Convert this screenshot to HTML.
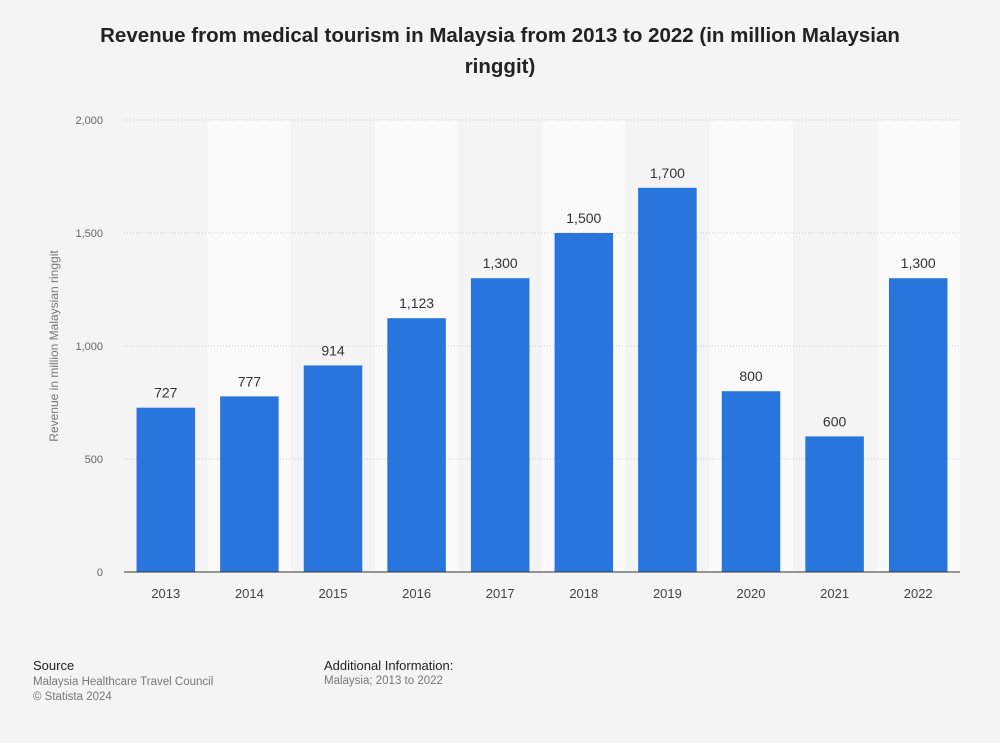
<!DOCTYPE html>
<html><head><meta charset="utf-8"><style>
body{margin:0;background:#f4f4f4;font-family:"Liberation Sans",sans-serif;}
#wrap{position:relative;width:1000px;height:743px;}
.t{position:absolute;}
</style></head><body><div id="wrap">
<div class="t" style="left:85px;top:20px;width:830px;text-align:center;font-size:20.5px;font-weight:bold;color:#222;line-height:31px">Revenue from medical tourism in Malaysia from 2013 to 2022 (in million Malaysian ringgit)</div>
<svg id="c" width="1000" height="743" style="position:absolute;left:0;top:0"></svg>
<div class="t" style="left:33px;top:658px;font-size:13px;color:#222">Source</div>
<div class="t" style="left:33px;top:675px;font-size:11.5px;color:#777;line-height:15px">Malaysia Healthcare Travel Council<br>© Statista 2024</div>
<div class="t" style="left:324px;top:658px;font-size:13px;color:#222">Additional Information:</div>
<div class="t" style="left:324px;top:675px;font-size:11.5px;color:#777">Malaysia; 2013 to 2022</div>
</div>
<script>
const categories=["2013","2014","2015","2016","2017","2018","2019","2020","2021","2022"];
const values=[727,777,914,1123,1300,1500,1700,800,600,1300];
const labels=["727","777","914","1,123","1,300","1,500","1,700","800","600","1,300"];
const yTicks=[0,500,1000,1500,2000];
const yTickLabels=["0","500","1,000","1,500","2,000"];
const svg=document.getElementById('c');const NS="http://www.w3.org/2000/svg";
const X0=124,X1=960,Y0=572,Y1=120,MAX=2000;
const bw=(X1-X0)/categories.length;
const y=v=>Y0-(v/MAX)*(Y0-Y1);
const x=i=>X0+i*bw;
function mk(t,a){const e=document.createElementNS(NS,t);for(const k in a)e.setAttribute(k,a[k]);svg.appendChild(e);return e;}
categories.forEach((c,i)=>{const e=mk('rect',{x:x(i),y:Y1,width:bw,height:Y0-Y1,fill:i%2?'#fafafa':'#f4f4f4'});

});
yTicks.forEach((t,i)=>{if(t>0){const l=mk('line',{x1:X0,x2:X1,y1:y(t),y2:y(t),stroke:'#ccc','stroke-dasharray':'1,2'});

}
const tx=mk('text',{x:103,y:y(t)+4,'text-anchor':'end','font-size':11,fill:'#666'});tx.textContent=yTickLabels[i];

});
categories.forEach((c,i)=>{const w=bw*0.7,bx=x(i)+(bw-w)/2;
const r=mk('rect',{x:bx,y:y(values[i]),width:w,height:Y0-y(values[i]),fill:'#2876dd'});


const v=mk('text',{x:bx+w/2,y:y(values[i])-10,'text-anchor':'middle','font-size':14,fill:'#333'});v.textContent=labels[i];


const xl=mk('text',{x:bx+w/2,y:598,'text-anchor':'middle','font-size':13,fill:'#444'});xl.textContent=c;

});
const ax=mk('line',{x1:X0,x2:X1,y1:Y0,y2:Y0,stroke:'#333','stroke-width':1});


const yt=mk('text',{x:0,y:0,transform:'translate(58,346) rotate(-90)','text-anchor':'middle','font-size':12,fill:'#777'});yt.textContent='Revenue in million Malaysian ringgit';


</script></body></html>
